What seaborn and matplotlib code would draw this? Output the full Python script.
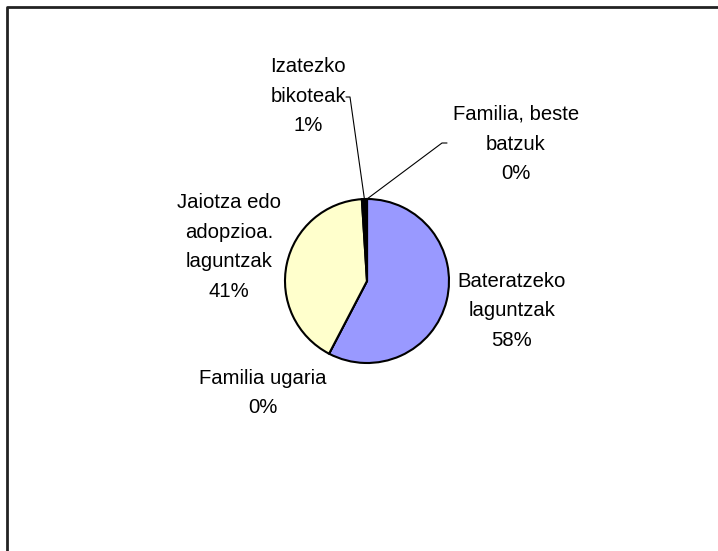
"""
Laguntza motak: pie chart, Excel-style labels with leader lines
"""

import matplotlib
matplotlib.use("Agg")
import matplotlib.pyplot as plt
import numpy as np
import seaborn as sns

# data
categories = ["Bateratzeko\nlaguntzak", "Familia ugaria", "Jaiotza edo\nadopzioa.\nlaguntzak",
              "Izatezko\nbikoteak", "Familia, beste\nbatzuk"]
values = [57.6, 0.0, 41.3, 1.0, 0.0]
colors = ["#9999FF", "#993366", "#FFFFCC", "#000000", "#CCFFFF"]

# label placement (pixel coords, y down) and optional leader elbows
label_pos = [(512, 311), (263, 393), (229, 247), (308, 96), (516, 144)]
leaders = {3: [(350, 97), (346, 97)], 4: [(442, 143), (447, 143)]}

W, H = 718, 551
CX, CY, R = 367, 281, 82

sns.set_theme(style="white")
plt.rcParams["font.family"] = ["Liberation Sans", "DejaVu Sans"]

fig = plt.figure(figsize=(W / 100, H / 100), dpi=100)
ax = fig.add_axes([0, 0, 1, 1])

wedges, _ = ax.pie(values, colors=colors, startangle=90, counterclock=False,
                   center=(CX, H - CY), radius=R,
                   wedgeprops=dict(edgecolor="black", linewidth=1.5))
ax.set_xlim(0, W)
ax.set_ylim(0, H)
ax.set_aspect("equal")
ax.axis("off")

total = sum(values)
for i, (name, v) in enumerate(zip(categories, values)):
    pct = 100 * v / total
    lx, ly = label_pos[i]
    ax.text(lx, H - ly, f"{name}\n{pct:.0f}%", ha="center", va="center",
            fontsize=14.6, linespacing=1.72, color="black")
    if i in leaders:
        w = wedges[i]
        ang = np.deg2rad((w.theta1 + w.theta2) / 2)
        ex = CX + R * np.cos(ang)
        ey = (H - CY) + R * np.sin(ang)
        xs = [ex] + [p[0] for p in leaders[i]]
        ys = [ey] + [H - p[1] for p in leaders[i]]
        ax.plot(xs, ys, color="black", linewidth=0.8)

# chart-area frame: top and left edges only
ax.plot([7, 7, W], [0, H - 7, H - 7], color="#222222", linewidth=2, clip_on=False)

fig.savefig("out.png", dpi=100, facecolor="white")
plt.close(fig)
